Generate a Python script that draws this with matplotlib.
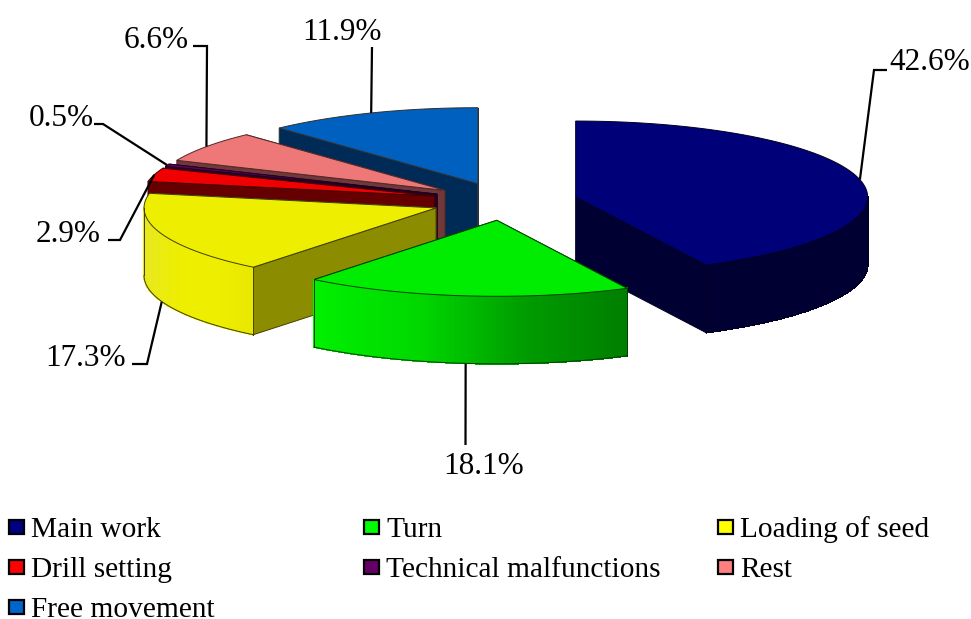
import matplotlib
matplotlib.use("Agg")
import matplotlib.pyplot as plt
import numpy as np
from matplotlib.collections import PolyCollection
from matplotlib.colors import to_rgb
from matplotlib.patches import Polygon, Rectangle

plt.rcParams['font.family'] = ['Liberation Serif', 'DejaVu Serif']

categories = ['Main work', 'Turn', 'Loading of seed', 'Drill setting',
              'Technical malfunctions', 'Rest', 'Free movement']
values = [42.6, 18.1, 17.3, 2.9, 0.5, 6.6, 11.9]
labels = ['42.6%', '18.1%', '17.3%', '2.9%', '0.5%', '6.6%', '11.9%']

legend_colors = ['#000080', '#00FF00', '#FFFF00', '#FF0000', '#660066', '#FF8080', '#0066CC']
top_colors = ['#000078', '#00EC00', '#EEEE00', '#F00000', '#600060', '#EE7777', '#0060C0']
side_colors = ['#000033', '#008C00', '#8C8C00', '#660000', '#290029', '#703838', '#002B57']
# outer wall shading, left to right
wall_colors = [['#000033', '#000033'], ['#00F000', '#00D800', '#009C00', '#007E00'],
               ['#E8E820', '#EEEE00', '#EEEE00', '#E8E800'], ['#D00000', '#E00000'],
               ['#500050', '#500050'], ['#C86464', '#C86464'], ['#004F9E', '#004F9E']]
edge_colors = ['#000020', '#004000', '#404000', '#400000', '#200020', '#502828', '#303030']
draw_order = [6, 5, 4, 3, 2, 0, 1]

# leader elbow and end, then label centre
elbows = [[(874, 70), (887, 70)], [(465.5, 445)], [(147, 364), (132, 364)], [(120, 240), (108, 240)],
          [(103, 124), (94, 124)], [(207, 46), (193, 46)], [(372, 47)]]
label_pos = [(930, 63), (484, 466), (86, 358), (68, 234), (61, 118), (156, 41), (342, 33)]

cx, cy = 504.6, 201.4
rx, ry = 292, 76
explode = 0.25
depth = 67.5

legend_x = [9, 364, 718]
legend_y = [527, 567, 607]


def arc(x0, y0, a0, a1, n=80):
    t = np.linspace(a0, a1, n)
    return x0 + rx * np.sin(t), y0 - ry * np.cos(t)


def blend(stops, f):
    stops = [to_rgb(c) for c in stops]
    p = f * (len(stops) - 1)
    i = min(int(p), len(stops) - 2)
    return tuple(np.array(stops[i]) * (1 - (p - i)) + np.array(stops[i + 1]) * (p - i))


fig = plt.figure(figsize=(9.71, 6.19), dpi=100)
ax = fig.add_axes([0, 0, 1, 1])
ax.set_xlim(0, 971)
ax.set_ylim(619, 0)
ax.axis('off')

edges = 2 * np.pi * np.concatenate([[0], np.cumsum(values)]) / sum(values)
anchors = {}

for i in draw_order:
    a0, a1 = edges[i], edges[i + 1]
    mid = (a0 + a1) / 2
    x0 = cx + explode * rx * np.sin(mid)
    y0 = cy - explode * ry * np.cos(mid)
    xs, ys = arc(x0, y0, a0, a1)

    # radial walls, the far one first
    order = [(xs[-1], ys[-1]), (xs[0], ys[0])]
    if mid < np.pi:
        order = order[::-1]
    for ex, ey in order:
        ax.add_patch(Polygon([(x0, y0), (ex, ey), (ex, ey + depth), (x0, y0 + depth)],
                             facecolor=side_colors[i], edgecolor=edge_colors[i], lw=0.7))

    # outer wall, only the part that faces the viewer
    lo, hi = max(a0, np.pi / 2), min(a1, 3 * np.pi / 2)
    if hi > lo:
        wx, wy = arc(x0, y0, lo, hi, 120)
        quads, cols = [], []
        xmin, xmax = wx.min(), wx.max()
        for k in range(len(wx) - 1):
            quads.append([(wx[k], wy[k]), (wx[k + 1], wy[k + 1]),
                          (wx[k + 1], wy[k + 1] + depth), (wx[k], wy[k] + depth)])
            cols.append(blend(wall_colors[i], ((wx[k] + wx[k + 1]) / 2 - xmin) / max(xmax - xmin, 1)))
        ax.add_collection(PolyCollection(quads, facecolors=cols, edgecolors=cols,
                                         linewidths=0.6, antialiaseds=False))
        ax.plot(wx, wy + depth, color=edge_colors[i], lw=0.7)
        ax.plot([wx[0], wx[0]], [wy[0], wy[0] + depth], color=edge_colors[i], lw=0.7)
        ax.plot([wx[-1], wx[-1]], [wy[-1], wy[-1] + depth], color=edge_colors[i], lw=0.7)

    ax.add_patch(Polygon(np.column_stack([np.r_[x0, xs], np.r_[y0, ys]]),
                         facecolor=top_colors[i], edgecolor=edge_colors[i], lw=0.7, joinstyle='miter'))

    ax_x = x0 + rx * np.sin(mid)
    ax_y = y0 - ry * np.cos(mid)
    if np.cos(mid) < 0:
        ax_y += depth
    anchors[i] = (ax_x, ax_y)

for i in range(len(values)):
    pts = [anchors[i]] + elbows[i]
    ax.plot([p[0] for p in pts], [p[1] for p in pts], color='black', lw=1.6,
            solid_joinstyle='miter', solid_capstyle='butt', zorder=1)
    ax.text(label_pos[i][0], label_pos[i][1], labels[i], fontsize=22.5, color='black',
            ha='center', va='center')

for i, name in enumerate(categories):
    lx = legend_x[i % 3]
    ly = legend_y[i // 3]
    ax.add_patch(Rectangle((lx, ly - 7.5), 14.5, 14.5, facecolor=legend_colors[i],
                           edgecolor='black', lw=1.6))
    ax.text(lx + 22, ly + 3, name, fontsize=21.2, color='black', ha='left', va='center')

fig.savefig('out.png', dpi=100)
